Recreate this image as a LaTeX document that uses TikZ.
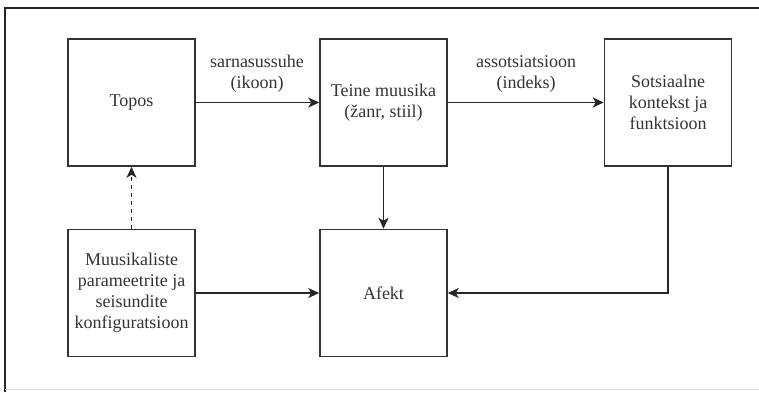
\documentclass[tikz,border=0pt]{standalone}
\usepackage{fontspec}
\setmainfont{Liberation Serif}
\usetikzlibrary{arrows.meta}
\definecolor{ink}{HTML}{333333}
\begin{document}
\begin{tikzpicture}[x=1pt,y=-1pt,
  box/.style={draw=ink, line width=1.5pt, minimum width=127pt, minimum height=127pt,
    align=center, font=\fontsize{18}{21}\selectfont, text=ink, inner sep=0pt},
  conn/.style={draw=black!85, line width=1.5pt, -{Stealth[length=11pt,width=10pt,inset=3pt]}},
  lab/.style={align=center, font=\fontsize{18}{21}\selectfont, text=ink, inner sep=0pt}]
\useasboundingbox (0,0) rectangle (759,392);
\draw[line width=1.8pt, black!85] (5,392) -- (5,8) -- (759,8);
\draw[line width=0.8pt, black!15] (5,389) -- (759,389);
\node[box] (topos) at (131.5,102.5) {Topos};
\node[box] (teine) at (383.5,102.5) {Teine muusika\\(žanr, stiil)};
\node[box] (sots) at (668,102.5) {Sotsiaalne\\kontekst ja\\funktsioon};
\node[box] (muus) at (131.5,293) {Muusikaliste\\parameetrite ja\\seisundite\\konfiguratsioon};
\node[box] (afekt) at (383.5,293) {Afekt};
\node[lab] (l1) at (257,73.5) {sarnasussuhe\\(ikoon)};
\node[lab] (l2) at (526,73.5) {assotsiatsioon\\(indeks)};
\draw[conn] (topos) -- (teine);
\draw[conn] (teine) -- (sots);
\draw[conn] (teine) -- (afekt);
\draw[conn] (muus) -- (afekt);
\draw[conn] (sots.south) |- (afekt.east);
\draw[conn, dash pattern=on 4pt off 4pt] (muus) -- (topos);
\end{tikzpicture}
\end{document}
